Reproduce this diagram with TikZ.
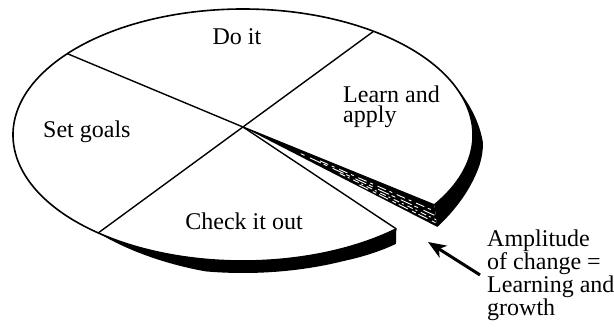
\documentclass[tikz,border=0pt]{standalone}
\usepackage{fontspec}
\setmainfont{Liberation Serif}
\usetikzlibrary{arrows.meta,calc}
\begin{document}
\begin{tikzpicture}[x=1pt,y=1pt,
  outline/.style={line width=1.6pt, line join=round},
  divider/.style={line width=1.4pt},
  rim/.style={fill=black},
  streak/.style={white, line width=0.9pt},
  lbl/.style={inner sep=0pt, font=\fontsize{24}{21}\selectfont},
  pointer/.style={line width=3pt, -{Stealth[length=18pt,width=14pt,inset=5pt]}}]
\useasboundingbox (0,0) rectangle (614,330);
% key points on the top surface
\coordinate (c) at (243,203);
\coordinate (ul) at ({243+230*cos(139.8)},{195+126*sin(139.8)});
\coordinate (ur) at ({243+230*cos(55.4)},{195+126*sin(55.4)});
\coordinate (ll) at ({243+230*cos(231)},{195+126*sin(231)});
\coordinate (e1) at ({243+230*cos(311.8)},{195+126*sin(311.8)});
\coordinate (e2) at ({243+230*cos(326.3)},{195+126*sin(326.3)});
\coordinate (h) at ($(e2)+(3.02,-22.02)$);
% rim of "Check it out"
\fill[rim] plot[domain=231:311.8,samples=60,variable=\t]
   ({243+230*cos(\t)},{195+126*sin(\t)})
 -- plot[domain=311.8:231,samples=60,variable=\t]
   ({243+(230+10*min(1,(\t-231)/30))*cos(\t)-7*max(0,(\t-295)/16.8)},
    {195+126*sin(\t)+min(1,(\t-231)/30)*(-8+4*sin(\t))-4*max(0,(\t-295)/16.8)})
 -- cycle;
% rim of "Learn and apply"
\fill[rim] plot[domain=326.3:384,samples=60,variable=\t]
   ({243+230*cos(\t)},{195+126*sin(\t)})
 -- plot[domain=384:326.3,samples=60,variable=\t]
   ({243+230*cos(\t)+min(1,(384-\t)/24)*10*cos(\t)-5.3*max(0,(350-\t)/23.7)},
    {195+126*sin(\t)+min(1,(384-\t)/24)*(-8+4*sin(\t))-11.8*max(0,(350-\t)/23.7)})
 -- cycle;
% hatched cut face
\fill[black] (c) -- (e2) -- (h) -- cycle;
\coordinate (s1) at ($(e2)!0.3!(h)$);
\coordinate (s2) at ($(e2)!0.5!(h)$);
\coordinate (s3) at ($(e2)!0.68!(h)$);
\coordinate (s4) at ($(e2)!0.84!(h)$);
\begin{scope}
\clip (c) -- (e2) -- (h) -- cycle;
\draw[streak, dash pattern=on 9pt off 4pt on 3pt off 5pt] ($(c)!0.4!(s1)$) -- (s1);
\draw[streak, dash pattern=on 4pt off 6pt on 12pt off 3pt] ($(c)!0.3!(s2)$) -- (s2);
\draw[streak, dash pattern=on 6pt off 3pt on 2pt off 4pt] ($(c)!0.5!(s3)$) -- (s3);
\draw[streak, dash pattern=on 10pt off 5pt on 4pt off 3pt] ($(c)!0.6!(s4)$) -- (s4);
\end{scope}
% top surface outline
\draw[outline] (e2) arc[start angle=326.3, end angle=671.8, x radius=230, y radius=126];
% dividers
\draw[divider] (ul) -- (c) -- (e2);
\draw[divider] (ur) -- (ll);
\draw[divider] (c) -- (e1);
% texts
\node[lbl, anchor=base] (doit) at (237,285) {Do it};
\node[lbl, anchor=base west] (setgoals) at (43,192.5) {Set goals};
\node[lbl, anchor=base west, align=left] (learn) at (343,207) {Learn and\\apply};
\node[lbl, anchor=base] (check) at (244,100) {Check it out};
\node[lbl, anchor=base west, align=left] (amp) at (487,15) {Amplitude\\of change =\\Learning and\\growth};
\coordinate (tip) at (428,88);
\draw[pointer] ([xshift=-7pt]amp.west) -- (tip);
\end{tikzpicture}
\end{document}
